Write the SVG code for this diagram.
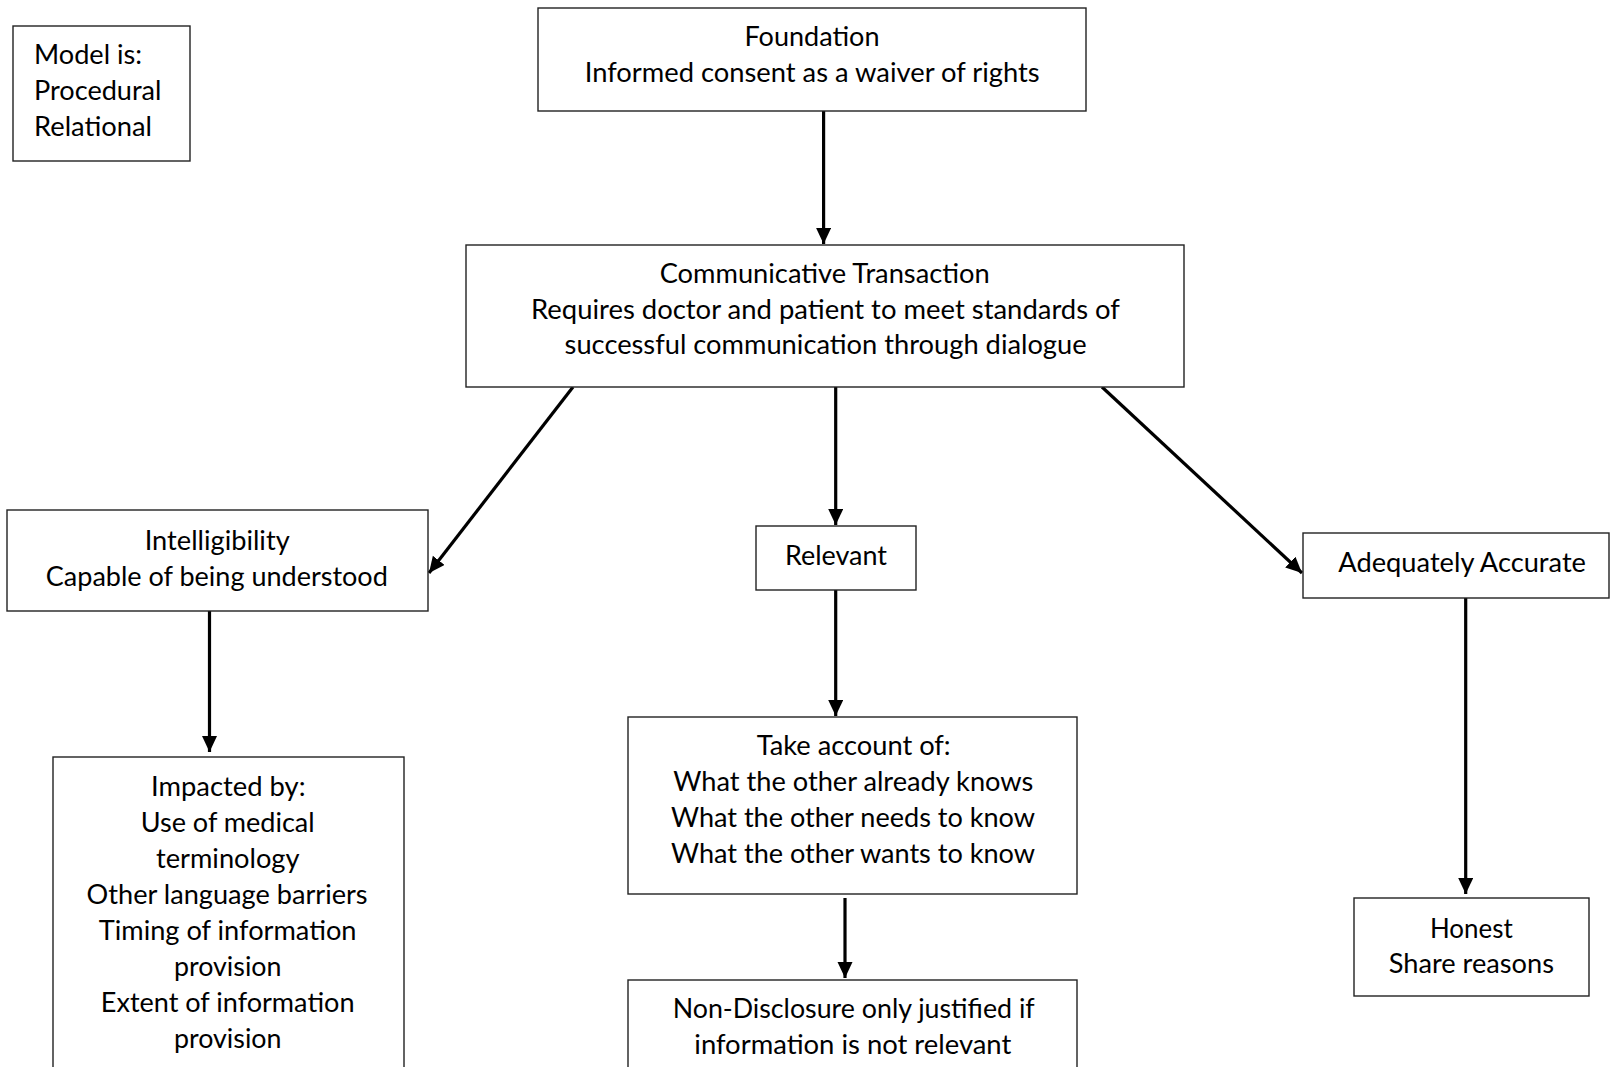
<svg xmlns="http://www.w3.org/2000/svg" width="1610" height="1067" viewBox="0 0 1610 1067">
<style>
.box{fill:#fff;stroke:#222;stroke-width:1.4}
.t{font-family:Lato,"Open Sans","Liberation Sans",sans-serif;font-size:26px;fill:#000}
.c{fill:none;stroke:#000;stroke-width:3.2}
</style>
<defs>
<marker id="ah" markerUnits="userSpaceOnUse" markerWidth="18" markerHeight="16" refX="16" refY="7.5" orient="auto">
<path d="M0,0 L16,7.5 L0,15 Z" fill="#000"/>
</marker>
</defs>
<rect width="1610" height="1067" fill="#fff"/>
<g id="connectors">
<line class="c" x1="823.6" y1="111" x2="823.6" y2="244" marker-end="url(#ah)"/>
<line class="c" x1="573" y1="387" x2="429" y2="573" marker-end="url(#ah)"/>
<line class="c" x1="835.7" y1="387" x2="835.7" y2="525" marker-end="url(#ah)"/>
<line class="c" x1="1102" y1="387" x2="1302" y2="573" marker-end="url(#ah)"/>
<line class="c" x1="209.5" y1="611" x2="209.5" y2="752" marker-end="url(#ah)"/>
<line class="c" x1="835.7" y1="590" x2="835.7" y2="716" marker-end="url(#ah)"/>
<line class="c" x1="845" y1="898" x2="845" y2="978" marker-end="url(#ah)"/>
<line class="c" x1="1465.7" y1="598" x2="1465.7" y2="894" marker-end="url(#ah)"/>
</g>
<g id="model">
<rect class="box" x="13" y="26" width="177" height="135"/>
<text class="t" x="34" y="64.3" textLength="108" lengthAdjust="spacingAndGlyphs">Model is:</text>
<text class="t" x="34" y="100" textLength="127.5" lengthAdjust="spacingAndGlyphs">Procedural</text>
<text class="t" x="34" y="136" textLength="118" lengthAdjust="spacingAndGlyphs">Relational</text>
</g>
<g id="foundation">
<rect class="box" x="538" y="8" width="548" height="103"/>
<text class="t" x="744.5" y="45.7" textLength="135" lengthAdjust="spacingAndGlyphs">Foundation</text>
<text class="t" x="584.7" y="81.7" textLength="455" lengthAdjust="spacingAndGlyphs">Informed consent as a waiver of rights</text>
</g>
<g id="communicative">
<rect class="box" x="466" y="245" width="718" height="142"/>
<text class="t" x="659.7" y="283.3" textLength="330" lengthAdjust="spacingAndGlyphs">Communicative Transaction</text>
<text class="t" x="531" y="318.7" textLength="589" lengthAdjust="spacingAndGlyphs">Requires doctor and patient to meet standards of</text>
<text class="t" x="564.6" y="354" textLength="522" lengthAdjust="spacingAndGlyphs">successful communication through dialogue</text>
</g>
<g id="intelligibility">
<rect class="box" x="7" y="510" width="421" height="101"/>
<text class="t" x="144.7" y="550" textLength="145" lengthAdjust="spacingAndGlyphs">Intelligibility</text>
<text class="t" x="45.8" y="585.6" textLength="342" lengthAdjust="spacingAndGlyphs">Capable of being understood</text>
</g>
<g id="relevant">
<rect class="box" x="756" y="526" width="160" height="64"/>
<text class="t" x="785" y="564.7" textLength="102" lengthAdjust="spacingAndGlyphs">Relevant</text>
</g>
<g id="accurate">
<rect class="box" x="1303" y="533" width="306" height="65"/>
<text class="t" x="1338.3" y="572.2" textLength="247.7" lengthAdjust="spacingAndGlyphs">Adequately Accurate</text>
</g>
<g id="impacted">
<rect class="box" x="53" y="757" width="351" height="330"/>
<text class="t" x="151" y="796" textLength="154.5" lengthAdjust="spacingAndGlyphs">Impacted by:</text>
<text class="t" x="140.7" y="832" textLength="174" lengthAdjust="spacingAndGlyphs">Use of medical</text>
<text class="t" x="156" y="868" textLength="143.5" lengthAdjust="spacingAndGlyphs">terminology</text>
<text class="t" x="86.6" y="904" textLength="281" lengthAdjust="spacingAndGlyphs">Other language barriers</text>
<text class="t" x="98.8" y="940" textLength="257.7" lengthAdjust="spacingAndGlyphs">Timing of information</text>
<text class="t" x="174" y="976" textLength="107.5" lengthAdjust="spacingAndGlyphs">provision</text>
<text class="t" x="100.8" y="1012" textLength="253.7" lengthAdjust="spacingAndGlyphs">Extent of information</text>
<text class="t" x="174" y="1048" textLength="107.5" lengthAdjust="spacingAndGlyphs">provision</text>
</g>
<g id="take-account">
<rect class="box" x="628" y="717" width="449" height="177"/>
<text class="t" x="756.7" y="755" textLength="194" lengthAdjust="spacingAndGlyphs">Take account of:</text>
<text class="t" x="673.3" y="791" textLength="360" lengthAdjust="spacingAndGlyphs">What the other already knows</text>
<text class="t" x="671" y="827" textLength="364" lengthAdjust="spacingAndGlyphs">What the other needs to know</text>
<text class="t" x="671" y="863" textLength="364" lengthAdjust="spacingAndGlyphs">What the other wants to know</text>
</g>
<g id="non-disclosure">
<rect class="box" x="628" y="980" width="449" height="107"/>
<text class="t" x="672.7" y="1017.6" textLength="362" lengthAdjust="spacingAndGlyphs">Non-Disclosure only justified if</text>
<text class="t" x="694.3" y="1053.6" textLength="317" lengthAdjust="spacingAndGlyphs">information is not relevant</text>
</g>
<g id="honest">
<rect class="box" x="1354" y="898" width="235" height="98"/>
<text class="t" x="1430" y="937.6" textLength="82.7" lengthAdjust="spacingAndGlyphs">Honest</text>
<text class="t" x="1388.7" y="973" textLength="165.3" lengthAdjust="spacingAndGlyphs">Share reasons</text>
</g>
</svg>
